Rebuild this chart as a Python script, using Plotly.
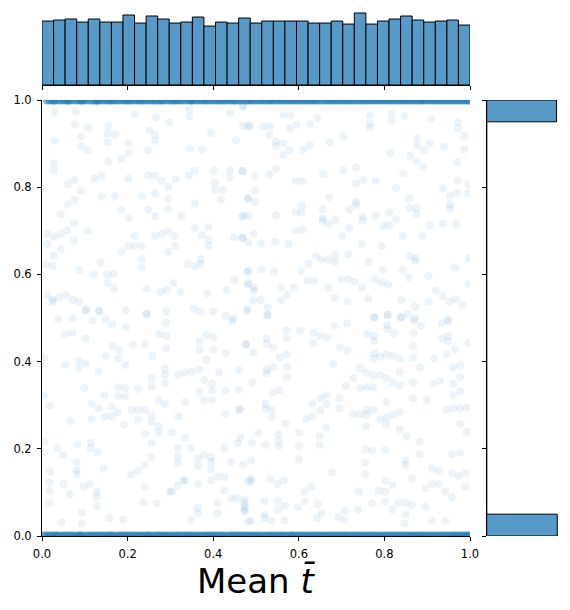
import numpy as np
import plotly.graph_objects as go

# marginal histogram counts (top: 37 bins over x, right: 20 bins over y, bottom -> top)
top_counts = [191, 194, 197, 188, 197, 188, 188, 209, 185, 206, 197, 185, 188, 203, 176, 188, 185, 200, 185,
              191, 191, 191, 191, 185, 185, 191, 182, 215, 182, 191, 197, 206, 194, 188, 191, 194, 179]
right_counts = [1000, 0, 0, 0, 0, 0, 0, 0, 0, 0, 0, 0, 0, 0, 0, 0, 0, 0, 0, 990]
tick_vals = [0.0, 0.2, 0.4, 0.6, 0.8, 1.0]
tick_text = ["0.0", "0.2", "0.4", "0.6", "0.8", "1.0"]

# points sitting on y = 1 and y = 0
top_band_x = [0.012, 0.018, 0.025, 0.028, 0.031, 0.039, 0.046, 0.052, 0.058, 0.061, 0.064, 0.071, 0.079, 0.085,
              0.091, 0.094, 0.097, 0.104, 0.112, 0.119, 0.126, 0.129, 0.133, 0.140, 0.147, 0.153, 0.159, 0.163,
              0.168, 0.175, 0.181, 0.188, 0.194, 0.199, 0.203, 0.209, 0.216, 0.222, 0.228, 0.233, 0.237, 0.244,
              0.251, 0.256, 0.262, 0.268, 0.274, 0.279, 0.283, 0.290, 0.297, 0.303, 0.309, 0.313, 0.318, 0.325,
              0.331, 0.338, 0.345, 0.349, 0.352, 0.359, 0.366, 0.372, 0.378, 0.383, 0.387, 0.394, 0.401, 0.406,
              0.412, 0.418, 0.423, 0.429, 0.436, 0.441, 0.447, 0.452, 0.458, 0.464, 0.471, 0.477, 0.483, 0.488,
              0.492, 0.499, 0.506, 0.511, 0.517, 0.523, 0.529, 0.534, 0.538, 0.545, 0.552, 0.557, 0.563, 0.569,
              0.574, 0.580, 0.586, 0.592, 0.597, 0.603, 0.609, 0.615, 0.621, 0.626, 0.632, 0.637, 0.641, 0.648,
              0.655, 0.661, 0.667, 0.672, 0.678, 0.684, 0.689, 0.695, 0.701, 0.707, 0.713, 0.718, 0.722, 0.729,
              0.736, 0.741, 0.747, 0.753, 0.758, 0.764, 0.769, 0.775, 0.781, 0.787, 0.793, 0.798, 0.804, 0.810,
              0.815, 0.821, 0.827, 0.833, 0.838, 0.844, 0.849, 0.855, 0.861, 0.867, 0.872, 0.878, 0.884, 0.889,
              0.893, 0.899, 0.906, 0.911, 0.917, 0.923, 0.928, 0.934, 0.939, 0.945, 0.951, 0.956, 0.962, 0.968,
              0.973, 0.979, 0.985, 0.990, 0.996, 1.000]
bottom_band_x = [0.004, 0.010, 0.017, 0.022, 0.028, 0.033, 0.037, 0.044, 0.051, 0.056, 0.062, 0.068, 0.073, 0.080,
                 0.086, 0.090, 0.094, 0.101, 0.108, 0.113, 0.119, 0.125, 0.131, 0.136, 0.142, 0.148, 0.154, 0.159,
                 0.163, 0.170, 0.177, 0.182, 0.188, 0.194, 0.199, 0.205, 0.211, 0.216, 0.222, 0.228, 0.234, 0.240,
                 0.246, 0.250, 0.255, 0.262, 0.268, 0.273, 0.279, 0.285, 0.291, 0.296, 0.302, 0.308, 0.314, 0.319,
                 0.325, 0.331, 0.337, 0.342, 0.348, 0.353, 0.359, 0.365, 0.371, 0.377, 0.383, 0.388, 0.394, 0.399,
                 0.405, 0.411, 0.417, 0.422, 0.428, 0.435, 0.441, 0.446, 0.452, 0.457, 0.463, 0.469, 0.475, 0.480,
                 0.486, 0.492, 0.498, 0.503, 0.509, 0.515, 0.521, 0.527, 0.533, 0.538, 0.544, 0.550, 0.556, 0.561,
                 0.567, 0.573, 0.579, 0.584, 0.588, 0.595, 0.601, 0.607, 0.613, 0.619, 0.624, 0.630, 0.636, 0.641,
                 0.647, 0.653, 0.659, 0.665, 0.671, 0.676, 0.682, 0.688, 0.693, 0.699, 0.705, 0.710, 0.716, 0.722,
                 0.728, 0.733, 0.739, 0.745, 0.751, 0.756, 0.762, 0.768, 0.774, 0.779, 0.785, 0.791, 0.797, 0.802,
                 0.808, 0.814, 0.819, 0.825, 0.831, 0.836, 0.842, 0.848, 0.854, 0.859, 0.865, 0.871, 0.877, 0.882,
                 0.888, 0.893, 0.899, 0.905, 0.911, 0.916, 0.922, 0.928, 0.934, 0.939, 0.945, 0.951, 0.957, 0.962,
                 0.968, 0.973, 0.979, 0.985, 0.991, 0.995, 0.999]

# the faint points in between
mid_points = [
    (0.030, 0.972), (0.078, 0.974), (0.125, 0.994), (0.217, 0.967), (0.266, 0.960), (0.298, 0.949), (0.344, 0.979),
    (0.344, 0.963), (0.439, 0.971), (0.470, 0.986), (0.482, 0.939), (0.077, 0.944), (0.108, 0.937), (0.155, 0.941),
    (0.251, 0.930), (0.264, 0.920), (0.171, 0.921), (0.153, 0.924), (0.091, 0.916), (0.030, 0.906), (0.153, 0.903),
    (0.202, 0.901), (0.264, 0.906), (0.345, 0.889), (0.374, 0.887), (0.453, 0.907), (0.091, 0.894), (0.108, 0.885),
    (0.202, 0.878), (0.248, 0.885), (0.395, 0.924), (0.028, 0.855), (0.028, 0.838), (0.155, 0.859), (0.186, 0.865),
    (0.357, 0.838), (0.402, 0.838), (0.439, 0.839), (0.468, 0.837), (0.438, 0.823), (0.060, 0.807), (0.076, 0.817),
    (0.091, 0.791), (0.122, 0.820), (0.139, 0.826), (0.202, 0.820), (0.248, 0.826), (0.264, 0.826), (0.280, 0.815),
    (0.312, 0.818), (0.343, 0.826), (0.139, 0.778), (0.171, 0.780), (0.233, 0.780), (0.264, 0.786), (0.295, 0.801),
    (0.295, 0.774), (0.404, 0.810), (0.422, 0.795), (0.404, 0.794), (0.060, 0.761), (0.076, 0.771), (0.044, 0.738),
    (0.186, 0.748), (0.248, 0.748), (0.295, 0.752), (0.202, 0.729), (0.264, 0.734), (0.326, 0.734), (0.357, 0.763),
    (0.418, 0.771), (0.481, 0.774), (0.467, 0.732), (0.012, 0.693), (0.028, 0.687), (0.044, 0.693), (0.059, 0.702),
    (0.075, 0.717), (0.107, 0.700), (0.217, 0.688), (0.264, 0.688), (0.280, 0.693), (0.295, 0.698), (0.311, 0.688),
    (0.357, 0.706), (0.373, 0.690), (0.389, 0.709), (0.449, 0.684), (0.468, 0.684), (0.012, 0.670), (0.044, 0.658),
    (0.075, 0.679), (0.217, 0.667), (0.202, 0.665), (0.233, 0.665), (0.295, 0.652), (0.311, 0.665), (0.389, 0.679),
    (0.389, 0.665), (0.340, 0.624), (0.357, 0.619), (0.371, 0.635), (0.371, 0.624), (0.482, 0.608), (0.482, 0.580),
    (0.028, 0.643), (0.137, 0.627), (0.186, 0.652), (0.233, 0.635), (0.233, 0.616), (0.009, 0.623), (0.025, 0.619),
    (0.087, 0.610), (0.121, 0.599), (0.153, 0.599), (0.168, 0.601), (0.153, 0.580), (0.168, 0.568), (0.245, 0.567),
    (0.277, 0.560), (0.291, 0.564), (0.307, 0.580), (0.324, 0.559), (0.386, 0.557), (0.431, 0.564), (0.449, 0.587),
    (0.012, 0.553), (0.025, 0.537), (0.025, 0.543), (0.040, 0.547), (0.056, 0.553), (0.072, 0.541), (0.087, 0.537),
    (0.103, 0.520), (0.134, 0.518), (0.196, 0.518), (0.245, 0.509), (0.354, 0.522), (0.369, 0.515), (0.400, 0.515),
    (0.447, 0.499),
    (0.470, 0.985), (0.564, 0.965), (0.581, 0.965), (0.643, 0.958), (0.766, 0.965), (0.817, 0.968), (0.847, 0.963),
    (0.910, 0.956), (0.972, 0.949), (0.470, 0.941), (0.486, 0.941), (0.517, 0.939), (0.533, 0.939), (0.579, 0.935),
    (0.595, 0.943), (0.626, 0.945), (0.766, 0.946), (0.766, 0.937), (0.817, 0.951), (0.972, 0.935), (0.531, 0.920),
    (0.704, 0.917), (0.877, 0.912), (0.986, 0.917), (0.547, 0.904), (0.564, 0.901), (0.547, 0.894), (0.578, 0.885),
    (0.610, 0.887), (0.626, 0.897), (0.673, 0.903), (0.877, 0.897), (0.906, 0.901), (0.939, 0.893), (0.892, 0.885),
    (0.987, 0.887), (0.564, 0.874), (0.860, 0.872), (0.814, 0.878), (0.875, 0.859), (0.891, 0.846), (0.970, 0.857),
    (0.469, 0.837), (0.498, 0.826), (0.531, 0.829), (0.547, 0.842), (0.657, 0.830), (0.704, 0.839), (0.734, 0.846),
    (0.844, 0.830), (0.593, 0.815), (0.609, 0.814), (0.734, 0.809), (0.751, 0.817), (0.780, 0.815), (0.827, 0.799),
    (0.937, 0.797), (0.970, 0.815), (0.996, 0.807), (0.498, 0.792), (0.482, 0.774), (0.498, 0.766), (0.671, 0.777),
    (0.953, 0.781), (0.970, 0.788), (0.995, 0.786), (0.858, 0.774), (0.734, 0.766), (0.734, 0.759), (0.607, 0.758),
    (0.593, 0.742), (0.607, 0.742), (0.656, 0.750), (0.718, 0.748), (0.470, 0.735), (0.482, 0.735), (0.547, 0.735),
    (0.656, 0.729), (0.656, 0.723), (0.669, 0.716), (0.685, 0.725), (0.749, 0.732), (0.749, 0.723), (0.780, 0.735),
    (0.811, 0.742), (0.827, 0.726), (0.858, 0.752), (0.875, 0.752), (0.875, 0.739), (0.953, 0.761), (0.953, 0.750),
    (0.905, 0.713), (0.937, 0.716), (0.968, 0.716), (0.718, 0.707), (0.797, 0.711), (0.811, 0.713), (0.469, 0.684),
    (0.495, 0.693), (0.482, 0.674), (0.512, 0.671), (0.545, 0.675), (0.576, 0.670), (0.593, 0.700), (0.609, 0.703),
    (0.701, 0.688), (0.748, 0.670), (0.794, 0.665), (0.843, 0.688), (0.889, 0.688), (0.640, 0.642), (0.653, 0.635),
    (0.669, 0.633), (0.685, 0.645), (0.685, 0.629), (0.716, 0.647), (0.763, 0.629), (0.858, 0.643), (0.872, 0.638),
    (0.872, 0.631), (0.997, 0.637), (0.480, 0.606), (0.512, 0.612), (0.542, 0.606), (0.606, 0.608), (0.623, 0.624),
    (0.796, 0.610), (0.843, 0.610), (0.965, 0.616), (0.480, 0.576), (0.495, 0.570), (0.495, 0.563), (0.559, 0.570),
    (0.589, 0.570), (0.620, 0.585), (0.636, 0.585), (0.669, 0.570), (0.700, 0.589), (0.716, 0.589), (0.731, 0.583),
    (0.747, 0.570), (0.778, 0.589), (0.794, 0.581), (0.809, 0.576), (0.857, 0.593), (0.903, 0.596), (0.997, 0.578),
    (0.494, 0.540), (0.511, 0.541), (0.558, 0.540), (0.573, 0.553), (0.684, 0.546), (0.713, 0.537), (0.762, 0.544),
    (0.839, 0.541), (0.872, 0.526), (0.903, 0.537), (0.920, 0.563), (0.936, 0.550), (0.952, 0.537), (0.967, 0.543),
    (0.983, 0.530), (0.480, 0.522), (0.527, 0.524), (0.527, 0.507), (0.777, 0.501), (0.808, 0.507), (0.839, 0.502),
    (0.855, 0.509), (0.871, 0.499), (0.948, 0.497),
    (0.038, 0.497), (0.071, 0.499), (0.102, 0.516), (0.133, 0.515), (0.118, 0.494), (0.149, 0.497), (0.164, 0.485),
    (0.196, 0.479), (0.243, 0.509), (0.290, 0.489), (0.290, 0.515), (0.054, 0.463), (0.071, 0.466), (0.102, 0.453),
    (0.164, 0.436), (0.180, 0.427), (0.212, 0.438), (0.241, 0.440), (0.274, 0.463), (0.290, 0.459), (0.290, 0.430),
    (0.005, 0.410), (0.054, 0.392), (0.085, 0.402), (0.085, 0.385), (0.102, 0.396), (0.132, 0.378), (0.149, 0.413),
    (0.178, 0.407), (0.195, 0.392), (0.258, 0.413), (0.099, 0.339), (0.005, 0.323), (0.019, 0.299), (0.066, 0.264),
    (0.116, 0.304), (0.116, 0.268), (0.132, 0.293), (0.147, 0.323), (0.147, 0.274), (0.163, 0.297), (0.163, 0.275),
    (0.178, 0.341), (0.178, 0.321), (0.194, 0.339), (0.194, 0.320), (0.177, 0.283), (0.192, 0.255), (0.210, 0.289),
    (0.225, 0.337), (0.225, 0.289), (0.241, 0.289), (0.225, 0.268), (0.241, 0.234), (0.256, 0.362), (0.256, 0.343),
    (0.256, 0.276), (0.256, 0.262), (0.256, 0.213), (0.272, 0.312), (0.272, 0.252), (0.287, 0.385), (0.287, 0.369),
    (0.287, 0.350), (0.287, 0.303), (0.303, 0.237), (0.319, 0.369), (0.319, 0.274), (0.334, 0.375), (0.334, 0.307),
    (0.334, 0.226), (0.005, 0.216), (0.036, 0.201), (0.050, 0.186), (0.083, 0.210), (0.114, 0.214), (0.114, 0.201),
    (0.130, 0.192), (0.081, 0.170), (0.081, 0.151), (0.081, 0.142), (0.097, 0.113), (0.112, 0.119), (0.128, 0.102),
    (0.128, 0.090), (0.128, 0.069), (0.143, 0.155), (0.019, 0.148), (0.017, 0.122), (0.017, 0.103), (0.050, 0.119),
    (0.065, 0.096), (0.093, 0.054), (0.093, 0.029), (0.046, 0.031), (0.017, 0.075), (0.208, 0.141), (0.224, 0.149),
    (0.239, 0.163), (0.239, 0.112), (0.255, 0.182), (0.273, 0.238), (0.303, 0.102), (0.317, 0.201), (0.317, 0.182),
    (0.317, 0.167), (0.317, 0.115), (0.333, 0.128), (0.348, 0.201), (0.364, 0.178), (0.364, 0.161), (0.364, 0.119),
    (0.364, 0.065), (0.379, 0.186), (0.395, 0.182), (0.395, 0.170), (0.395, 0.153), (0.395, 0.128), (0.410, 0.136),
    (0.410, 0.075), (0.426, 0.201), (0.426, 0.136), (0.426, 0.105), (0.442, 0.170), (0.442, 0.086), (0.457, 0.213),
    (0.457, 0.086), (0.473, 0.075), (0.473, 0.060), (0.482, 0.125), (0.482, 0.033), (0.157, 0.041), (0.190, 0.037),
    (0.237, 0.077), (0.268, 0.075), (0.299, 0.102), (0.330, 0.128), (0.348, 0.037), (0.364, 0.052), (0.410, 0.052),
    (0.379, 0.312), (0.368, 0.331), (0.379, 0.358), (0.384, 0.404), (0.368, 0.427), (0.368, 0.446), (0.384, 0.461),
    (0.400, 0.457), (0.400, 0.428), (0.429, 0.419), (0.429, 0.505), (0.445, 0.493), (0.476, 0.439), (0.460, 0.381),
    (0.460, 0.336), (0.429, 0.333), (0.429, 0.280), (0.460, 0.289), (0.414, 0.375), (0.397, 0.350), (0.397, 0.333),
    (0.397, 0.312), (0.368, 0.382), (0.350, 0.377),
    (0.479, 0.515), (0.526, 0.507), (0.525, 0.453), (0.525, 0.440), (0.540, 0.433), (0.572, 0.472), (0.572, 0.453),
    (0.603, 0.471), (0.634, 0.466), (0.650, 0.459), (0.667, 0.456), (0.634, 0.442), (0.696, 0.433), (0.713, 0.425),
    (0.683, 0.482), (0.713, 0.488), (0.477, 0.440), (0.494, 0.421), (0.556, 0.410), (0.572, 0.417), (0.572, 0.387),
    (0.572, 0.364), (0.540, 0.387), (0.525, 0.382), (0.525, 0.372), (0.492, 0.352), (0.681, 0.394), (0.743, 0.385),
    (0.758, 0.375), (0.774, 0.369), (0.790, 0.369), (0.805, 0.362), (0.820, 0.352), (0.836, 0.375), (0.836, 0.344),
    (0.867, 0.352), (0.883, 0.387), (0.774, 0.407), (0.790, 0.411), (0.805, 0.417), (0.820, 0.413), (0.836, 0.407),
    (0.867, 0.410), (0.867, 0.436), (0.776, 0.420), (0.776, 0.448), (0.760, 0.463), (0.776, 0.459), (0.776, 0.501),
    (0.807, 0.507), (0.807, 0.484), (0.807, 0.474), (0.822, 0.465), (0.838, 0.502), (0.869, 0.494), (0.885, 0.482),
    (0.869, 0.466), (0.934, 0.488), (0.949, 0.492), (0.949, 0.459), (0.949, 0.446), (0.934, 0.453), (0.965, 0.428),
    (0.996, 0.443), (0.945, 0.417), (0.916, 0.407), (0.977, 0.392), (0.961, 0.387), (0.930, 0.356), (0.914, 0.349),
    (0.977, 0.364), (0.961, 0.349), (0.977, 0.331), (0.961, 0.323), (0.992, 0.295), (0.977, 0.293), (0.961, 0.293),
    (0.945, 0.289), (0.977, 0.257), (0.992, 0.239), (0.710, 0.344), (0.695, 0.316), (0.695, 0.293), (0.727, 0.362),
    (0.743, 0.339), (0.758, 0.341), (0.774, 0.341), (0.805, 0.308), (0.836, 0.285), (0.820, 0.278), (0.805, 0.272),
    (0.790, 0.268), (0.774, 0.289), (0.758, 0.289), (0.758, 0.278), (0.743, 0.280), (0.727, 0.280), (0.757, 0.252),
    (0.804, 0.257), (0.835, 0.245), (0.852, 0.228), (0.882, 0.216), (0.867, 0.316), (0.899, 0.312), (0.539, 0.329),
    (0.554, 0.335), (0.632, 0.304), (0.650, 0.316), (0.665, 0.323), (0.665, 0.303), (0.650, 0.289), (0.632, 0.274),
    (0.617, 0.268), (0.664, 0.249), (0.648, 0.228), (0.648, 0.209), (0.601, 0.237), (0.600, 0.206), (0.600, 0.176),
    (0.522, 0.303), (0.522, 0.291), (0.537, 0.289), (0.537, 0.272), (0.569, 0.258), (0.553, 0.234), (0.553, 0.206),
    (0.553, 0.219), (0.522, 0.209), (0.506, 0.236), (0.491, 0.213), (0.463, 0.291), (0.463, 0.226), (0.470, 0.163),
    (0.489, 0.173), (0.489, 0.132), (0.489, 0.125), (0.534, 0.130), (0.550, 0.119), (0.565, 0.127), (0.755, 0.199),
    (0.771, 0.196), (0.802, 0.197), (0.755, 0.168), (0.755, 0.142), (0.849, 0.173), (0.849, 0.163), (0.882, 0.188),
    (0.864, 0.132), (0.802, 0.127), (0.819, 0.117), (0.787, 0.104), (0.802, 0.102), (0.740, 0.102), (0.678, 0.146),
    (0.629, 0.113), (0.614, 0.102), (0.614, 0.079), (0.645, 0.073), (0.598, 0.066), (0.567, 0.069), (0.551, 0.060),
    (0.551, 0.080), (0.520, 0.081), (0.520, 0.048), (0.520, 0.041), (0.489, 0.035), (0.474, 0.084), (0.474, 0.067),
    (0.474, 0.056), (0.536, 0.035), (0.567, 0.035), (0.692, 0.043), (0.707, 0.058), (0.707, 0.037), (0.738, 0.060),
    (0.771, 0.075), (0.802, 0.079), (0.818, 0.061), (0.833, 0.076), (0.849, 0.076), (0.849, 0.050), (0.864, 0.071),
    (0.896, 0.067), (0.911, 0.155), (0.927, 0.150), (0.896, 0.109), (0.911, 0.119), (0.927, 0.119), (0.958, 0.144),
    (0.973, 0.138), (0.989, 0.144), (0.989, 0.113), (0.942, 0.102), (0.958, 0.089), (0.942, 0.035), (0.911, 0.035),
    (0.847, 0.029), (0.958, 0.188), (0.977, 0.191), (0.653, 0.054), (0.643, 0.041),
]

mid_x = [p[0] for p in mid_points]
mid_y = [p[1] for p in mid_points]

BLUE = "#1f77b4"
BAR_FILL = "#5799c7"
FONT = "DejaVu Sans"
W, H = 570, 610
OFF = 8  # page body margin around the plot div


def px_x(px):
    return (px - OFF) / W


def px_y(py):
    return 1 - (py - OFF) / H


x_edges = np.linspace(0, 1, len(top_counts) + 1)
x_mid = (x_edges[:-1] + x_edges[1:]) / 2
y_edges = np.linspace(0, 1, len(right_counts) + 1)
y_mid = (y_edges[:-1] + y_edges[1:]) / 2

fig = go.Figure()
fig.add_trace(go.Scatter(x=mid_x, y=mid_y, mode="markers", xaxis="x", yaxis="y", cliponaxis=True,
                         marker=dict(size=8, color=BLUE, opacity=0.085, line=dict(width=0))))
for band_x, band_y in ((top_band_x, 1.0), (bottom_band_x, 0.0)):
    fig.add_trace(go.Scatter(x=band_x, y=[band_y] * len(band_x), mode="markers", xaxis="x", yaxis="y",
                             cliponaxis=True,
                             marker=dict(size=9, color=BLUE, opacity=0.5, line=dict(width=0))))
fig.add_trace(go.Bar(x=x_mid, y=top_counts, width=1 / len(top_counts), xaxis="x2", yaxis="y2",
                     marker=dict(color=BAR_FILL, line=dict(color="black", width=1))))
fig.add_trace(go.Bar(x=right_counts, y=y_mid, width=1 / len(right_counts), orientation="h",
                     xaxis="x3", yaxis="y3",
                     marker=dict(color=BAR_FILL, line=dict(color="black", width=1))))

main_x = [px_x(42), px_x(470)]
main_y = [px_y(536), px_y(100)]

tick_style = dict(showline=True, linecolor="black", linewidth=1, ticks="outside", ticklen=4, tickwidth=1,
                  tickcolor="black", showgrid=False, zeroline=False, automargin=False,
                  tickvals=tick_vals, ticktext=tick_text, ticklabelstandoff=3,
                  tickfont=dict(family=FONT, size=11.5, color="black"))

fig.update_layout(
    width=W, height=H,
    margin=dict(l=0, r=0, t=0, b=0),
    paper_bgcolor="white", plot_bgcolor="white",
    showlegend=False,
    font=dict(family=FONT, color="black"),
    xaxis=dict(domain=main_x, range=[0, 1], anchor="y", **tick_style),
    yaxis=dict(domain=main_y, range=[0, 1], anchor="x", **tick_style),
    xaxis2=dict(domain=main_x, range=[0, 1], anchor="y2", **{**tick_style, "showticklabels": False}),
    yaxis2=dict(domain=[px_y(85), px_y(9.4)], range=[0, max(top_counts) * 1.05], anchor="x2",
                visible=False),
    xaxis3=dict(domain=[px_x(486.7), px_x(560.8)], range=[0, max(right_counts) * 1.05], anchor="y3",
                visible=False),
    yaxis3=dict(domain=main_y, range=[0, 1], anchor="x3", **{**tick_style, "showticklabels": False}),
    annotations=[dict(text="Mean <i>t̄</i>", x=(main_x[0] + main_x[1]) / 2, y=px_y(581),
                      xref="paper", yref="paper", xanchor="center", yanchor="middle", showarrow=False,
                      font=dict(family=FONT, size=34, color="black"))],
)

fig.write_html("out.html")
